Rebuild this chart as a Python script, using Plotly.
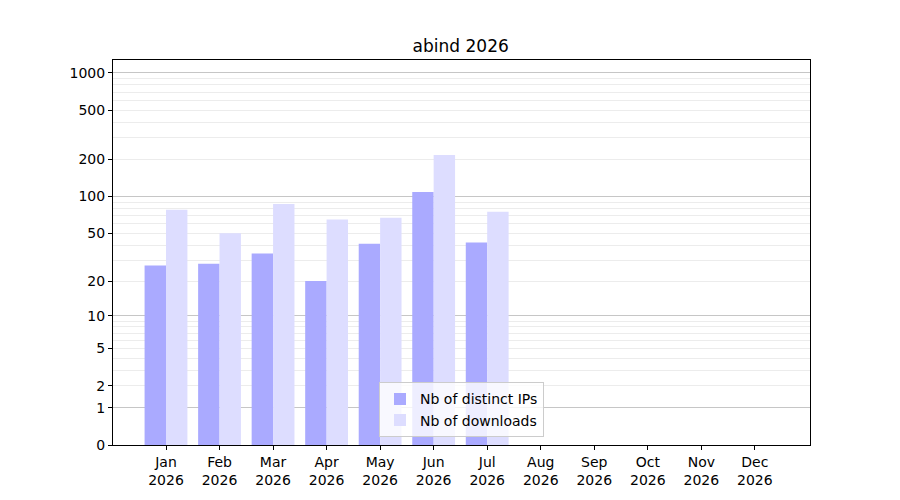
import numpy as np
from plotly import graph_objects as go

#-------> D A T A <-------
title = "abind 2026"
months = ["Jan", "Feb", "Mar", "Apr", "May", "Jun",
          "Jul", "Aug", "Sep", "Oct", "Nov", "Dec"]
year = "2026"
distinct_ips = [27, 28, 34, 20, 41, 109, 42]
downloads = [78, 50, 87, 65, 67, 217, 75]
ytick_values = [0, 1, 2, 5, 10, 20, 50, 100, 200, 500, 1000]
#-------------------------


def to_axis(v):
    # log10(1+y) scale, same as the reference
    return np.log10(1 + np.asarray(v, dtype=float))


x_pos = np.arange(len(months))
major_grid = [1, 10, 100, 1000]
minor_grid = [m * d for d in (1, 10, 100) for m in range(2, 10)]

font = dict(family="DejaVu Sans", size=14, color="black")

fig = go.Figure()
fig.add_trace(go.Bar(x=x_pos[:len(distinct_ips)], y=to_axis(distinct_ips),
                     name="Nb of distinct IPs", marker=dict(color="#aaaaff", line_width=0)))
fig.add_trace(go.Bar(x=x_pos[:len(downloads)], y=to_axis(downloads),
                     name="Nb of downloads", marker=dict(color="#ddddff", line_width=0)))
# invisible trace to carry the darker major grid on a second axis
fig.add_trace(go.Scatter(x=[x_pos[0]], y=[0], yaxis="y2", mode="markers",
                         marker=dict(opacity=0), showlegend=False, hoverinfo="skip"))

yrange = [0, 3.105]
fig.update_layout(
    width=900, height=500,
    plot_bgcolor="white", paper_bgcolor="white",
    font=font,
    title=dict(text=title, x=0.503, xanchor="center", y=0.924, yanchor="middle",
               font=dict(family="DejaVu Sans", size=17, color="black")),
    margin=dict(l=105, r=98, t=52, b=63),
    barmode="group", bargap=0.2, bargroupgap=0,
    xaxis=dict(
        range=[-0.99, 12.03],
        tickmode="array", tickvals=x_pos,
        ticktext=[f"{m}<br>{year}" for m in months],
        ticks="outside", ticklen=4, tickcolor="black",
        showgrid=False, zeroline=False,
        showline=True, linecolor="black", linewidth=1, mirror=True,
    ),
    yaxis=dict(
        range=yrange,
        tickmode="array", tickvals=to_axis(ytick_values),
        ticktext=[str(v) for v in ytick_values],
        ticks="outside", ticklen=4, tickcolor="black",
        showgrid=False, zeroline=False,
        showline=True, linecolor="black", linewidth=1, mirror=True,
        layer="above traces",
        minor=dict(tickmode="array", tickvals=to_axis(minor_grid),
                   showgrid=True, gridcolor="rgba(200,200,200,0.35)", gridwidth=1,
                   ticks=""),
    ),
    yaxis2=dict(
        range=yrange, overlaying="y", side="left",
        tickmode="array", tickvals=to_axis(major_grid),
        showticklabels=False, ticks="",
        showgrid=True, gridcolor="rgba(128,128,128,0.45)", gridwidth=1,
        zeroline=False, showline=False,
        layer="above traces",
    ),
    legend=dict(x=0.5, y=0.02, xanchor="center", yanchor="bottom",
                bgcolor="rgba(255,255,255,0.8)", bordercolor="#cccccc", borderwidth=1,
                itemwidth=30, tracegroupgap=0,
                font=dict(family="DejaVu Sans", size=14, color="black")),
    showlegend=True,
)

fig.write_html("out.html")
